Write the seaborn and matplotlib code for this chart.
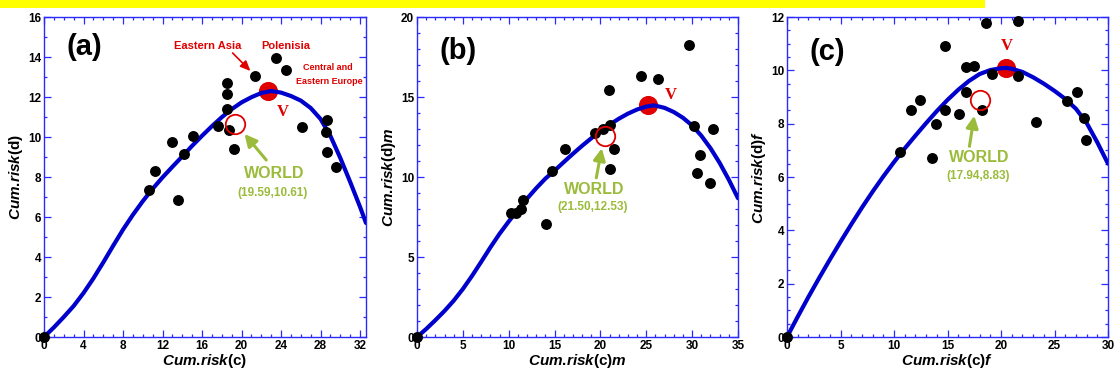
import numpy as np
import pandas as pd
import seaborn as sns
import matplotlib
matplotlib.use("Agg")
import matplotlib.pyplot as plt
from matplotlib.ticker import MultipleLocator
from matplotlib.patches import Rectangle

# ---------------- data ----------------
# Panel (a)
a_px = [0, 10.64, 11.2, 13.58, 13.0, 14.16, 15.1, 17.6, 18.5, 18.5, 18.5, 18.7, 19.2,
        21.4, 23.5, 24.5, 26.1, 28.64, 28.54, 28.7, 29.58]
a_py = [0, 7.37, 8.28, 6.87, 9.77, 9.13, 10.03, 10.55, 12.7, 12.17, 11.42, 10.37, 9.42,
        13.07, 13.97, 13.33, 10.5, 10.85, 10.23, 9.23, 8.48]
a_cx = [0, 1, 2, 3, 4, 5, 6, 7, 8, 9, 10, 11, 12, 13, 14, 15, 16, 17, 18, 19, 20, 21,
        22, 23, 24, 25, 26, 27, 28, 29, 30, 31, 32, 32.6]
a_cy = [0, 0.48, 1.0, 1.55, 2.2, 2.93, 3.73, 4.56, 5.37, 6.11, 6.79, 7.41, 7.98, 8.51,
        9.03, 9.56, 10.06, 10.54, 10.99, 11.39, 11.73, 11.99, 12.2, 12.3, 12.22, 12.05,
        11.82, 11.45, 10.9, 10.05, 8.95, 7.75, 6.5, 5.7]
a_v = (22.7, 12.3)
a_w = (19.3, 10.65)
a_wlabel = "(19.59,10.61)"

# Panel (b)
b_px = [0, 10.29, 10.83, 11.38, 11.56, 14.1, 14.76, 16.1, 19.37, 20.28, 21.0, 20.94,
        21.45, 21.0, 24.39, 26.28, 29.66, 30.17, 32.28, 30.83, 30.57, 31.99]
b_py = [0, 7.77, 7.77, 8.02, 8.58, 7.08, 10.35, 11.77, 12.75, 13.02, 13.27, 15.42,
        11.73, 10.52, 16.31, 16.1, 18.23, 13.17, 13.02, 11.35, 10.25, 9.63]
b_cx = [0, 1, 2, 3, 4, 5, 6, 7, 8, 9, 10, 11, 12, 13, 14, 15, 16, 17, 18, 19, 20, 21,
        22, 23, 24, 25, 25.7, 26, 27, 28, 29, 30, 31, 32, 33, 34, 35]
b_cy = [0, 0.5, 1.05, 1.63, 2.27, 3.0, 3.82, 4.7, 5.6, 6.45, 7.22, 7.95, 8.65, 9.3,
        9.9, 10.4, 10.93, 11.45, 11.95, 12.42, 12.86, 13.27, 13.64, 13.96, 14.22, 14.4,
        14.47, 14.46, 14.32, 14.06, 13.7, 13.22, 12.58, 11.8, 10.88, 9.83, 8.67]
b_v = (25.2, 14.48)
b_w = (20.5, 12.58)
b_wlabel = "(21.50,12.53)"

# Panel (c)
c_px = [0, 10.6, 11.63, 12.43, 13.58, 13.93, 14.77, 14.77, 16.1, 16.72, 17.5, 16.72,
        18.18, 18.56, 19.18, 21.6, 21.6, 23.25, 26.14, 27.1, 27.76, 27.95]
c_py = [0, 6.94, 8.5, 8.875, 6.73, 8.0, 10.91, 8.5, 8.35, 10.125, 10.16, 9.19,
        8.5, 11.78, 9.875, 11.85, 9.78, 8.06, 8.85, 9.19, 8.23, 7.38]
c_cx = [0, 1, 2, 3, 4, 5, 6, 7, 8, 9, 10, 11, 12, 13, 14, 15, 16, 17, 18, 19, 20,
        20.5, 21, 22, 23, 24, 25, 26, 27, 28, 29, 30]
c_cy = [0, 0.76, 1.5, 2.21, 2.9, 3.57, 4.22, 4.85, 5.45, 6.02, 6.56, 7.07, 7.55, 8.02,
        8.47, 8.89, 9.27, 9.6, 9.86, 10.01, 10.08, 10.09, 10.06, 9.94, 9.74, 9.5, 9.23,
        8.93, 8.56, 8.03, 7.3, 6.5]
c_v = (20.5, 10.09)
c_w = (18.03, 8.88)
c_wlabel = "(17.94,8.83)"

# ---------------- style ----------------
sns.set_theme(style="white")
plt.rcParams["font.family"] = ["Liberation Sans", "DejaVu Sans"]
plt.rcParams["mathtext.fontset"] = "custom"
plt.rcParams["mathtext.it"] = "Liberation Sans:italic:bold"
plt.rcParams["mathtext.rm"] = "Liberation Sans:bold"
plt.rcParams["mathtext.bf"] = "Liberation Sans:bold"
plt.rcParams["text.color"] = "black"
plt.rcParams["axes.labelcolor"] = "black"
plt.rcParams["xtick.labelcolor"] = "black"
plt.rcParams["ytick.labelcolor"] = "black"

BLUE_LINE = "#0000cc"
SPINE = "#2a2aff"
RED = "#e00000"
GREEN = "#9bbb3b"

fig = plt.figure(figsize=(11.17, 3.74), dpi=100)
W, H = 1117, 374

def make_ax(left_px, width_px):
    return fig.add_axes([left_px / W, 1 - 337 / H, width_px / W, 320 / H])

axA = make_ax(44, 322)
axB = make_ax(417, 321)
axC = make_ax(787, 321)

CUM = r"\mathit{Cum.\hspace{-0.2}risk}"


def draw(ax, cx, cy, px, py, v, w, wlabel, xlim, ylim, xmaj, xmin, ymaj, ymin,
         letter, letter_pos, vpos, wtext_pos, warrow, xlabel, ylabel):
    ax.set_facecolor("white")
    # V point (under the line)
    sns.scatterplot(x=[v[0]], y=[v[1]], ax=ax, color=RED, s=190, linewidth=0,
                    zorder=2, legend=False)
    # fitted curve
    sns.lineplot(x=cx, y=cy, ax=ax, color=BLUE_LINE, lw=3.0, sort=False,
                 estimator=None, zorder=3, legend=False,
                 solid_joinstyle="round", solid_capstyle="round")
    # countries
    sns.scatterplot(x=px, y=py, ax=ax, color="black", s=62, linewidth=0,
                    zorder=4, clip_on=False, legend=False)
    # WORLD open circle
    ax.plot([w[0]], [w[1]], "o", mfc="none", mec=RED, ms=14, mew=1.3, zorder=5)

    ax.set_xlim(*xlim)
    ax.set_ylim(*ylim)
    ax.xaxis.set_major_locator(MultipleLocator(xmaj))
    ax.xaxis.set_minor_locator(MultipleLocator(xmin))
    ax.yaxis.set_major_locator(MultipleLocator(ymaj))
    ax.yaxis.set_minor_locator(MultipleLocator(ymin))
    ax.tick_params(which="both", direction="in", top=True, right=True,
                   bottom=True, left=True, color=SPINE, width=0.9)
    ax.tick_params(which="major", length=5, labelsize=8.5, pad=2, labelcolor="black")
    ax.tick_params(which="minor", length=2.5)
    for lab in ax.get_xticklabels() + ax.get_yticklabels():
        lab.set_fontweight("bold")
        lab.set_color("black")
    for sp in ax.spines.values():
        sp.set_color(SPINE)
        sp.set_linewidth(1.0)
        sp.set_visible(True)

    ax.set_xlabel(xlabel, fontsize=11, fontweight="bold", labelpad=0, color="black")
    ax.set_ylabel(ylabel, fontsize=11, fontweight="bold", labelpad=2, color="black")

    ax.text(*letter_pos, letter, fontsize=21, fontweight="bold", ha="center",
            va="center", zorder=6, color="black")
    ax.text(*vpos, "V", fontsize=12, fontweight="bold", color=RED, ha="center",
            va="center", family=["Liberation Serif", "DejaVu Serif"], zorder=6)
    ax.text(wtext_pos[0], wtext_pos[1], "WORLD", fontsize=11.5, fontweight="bold",
            color=GREEN, ha="center", va="center", zorder=6)
    ax.text(wtext_pos[2], wtext_pos[3], wlabel, fontsize=8.5, fontweight="bold",
            color=GREEN, ha="center", va="center", zorder=6)
    ax.annotate("", xy=warrow[1], xytext=warrow[0],
                arrowprops=dict(arrowstyle="-|>,head_length=0.6,head_width=0.3",
                                color=GREEN, lw=2.2, shrinkA=0, shrinkB=0), zorder=6)


draw(axA, a_cx, a_cy, a_px, a_py, a_v, a_w, a_wlabel, (0, 32.6), (0, 16), 4, 1, 2, 1,
     "(a)", (4.1, 14.5), (24.2, 11.25), (23.3, 8.2, 23.1, 7.2),
     ((22.5, 8.85), (20.3, 10.15)),
     "$" + CUM + "$(c)", "$" + CUM + "$(d)")
draw(axB, b_cx, b_cy, b_px, b_py, b_v, b_w, b_wlabel, (0, 35), (0, 20), 5, 1, 5, 1,
     "(b)", (4.5, 17.9), (27.7, 15.1), (19.3, 9.25, 19.1, 8.1),
     ((19.55, 9.95), (20.15, 11.8)),
     "$" + CUM + r"$(c)$\mathit{m}$", "$" + CUM + r"$(d)$\mathit{m}$")
draw(axC, c_cx, c_cy, c_px, c_py, c_v, c_w, c_wlabel, (0, 30), (0, 12), 5, 1, 2, 0.5,
     "(c)", (3.8, 10.7), (20.5, 10.9), (18.0, 6.75, 17.9, 6.05),
     ((17.05, 7.15), (17.5, 8.3)),
     "$" + CUM + r"$(c)$\mathit{f}$", "$" + CUM + r"$(d)$\mathit{f}$")

# region labels in panel (a)
axA.text(16.6, 14.55, "Eastern Asia", color=RED, fontsize=8, fontweight="bold",
         ha="center", va="center")
axA.text(24.5, 14.55, "Polenisia", color=RED, fontsize=8, fontweight="bold",
         ha="center", va="center")
axA.text(28.7, 13.45, "Central and", color=RED, fontsize=6.5, fontweight="bold",
         ha="center", va="center")
axA.text(28.9, 12.8, "Eastern Europe", color=RED, fontsize=6.5, fontweight="bold",
         ha="center", va="center")
axA.annotate("", xy=(20.9, 13.3), xytext=(19.1, 14.2),
             arrowprops=dict(arrowstyle="-|>,head_length=0.5,head_width=0.22",
                             color=RED, lw=1.2, shrinkA=0, shrinkB=0))

# yellow banner strip at the top (cut-off caption line)
fig.patches.append(Rectangle((0, 1 - 8 / H), 985 / W, 8 / H, transform=fig.transFigure,
                             facecolor="#ffff00", edgecolor="none", zorder=0))

fig.savefig("out.png", dpi=100)
